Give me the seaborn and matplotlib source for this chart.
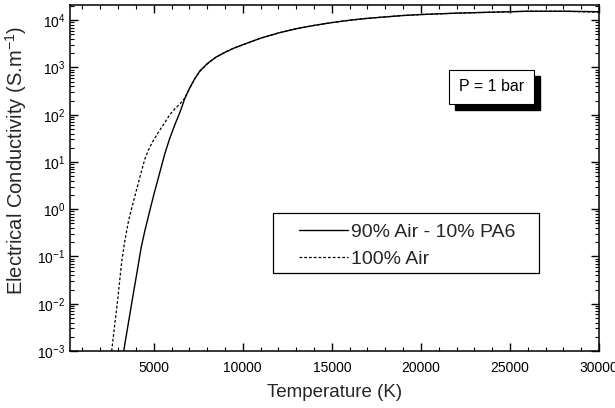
import numpy as np
import pandas as pd
import matplotlib
matplotlib.use("Agg")
import matplotlib.pyplot as plt
import matplotlib.transforms as mtransforms
from matplotlib.patches import Rectangle
from matplotlib.ticker import MultipleLocator, LogLocator, NullFormatter
import seaborn as sns

# values (T in K, log10 of sigma in S/m)
temp_mix = [3315, 3550, 3800, 4050, 4300, 4500, 4800, 5000, 5300, 5620, 5900,
            6200, 6500, 6740, 7000, 7300, 7600, 8000, 8500, 9000, 9500,
            10000, 11000, 12000, 13000, 14000, 15000, 16000, 17000, 18000,
            19000, 20000, 22000, 24000, 26000, 28000, 30000]
logsig_mix = [-3.00, -2.47, -1.91, -1.36, -0.80, -0.46, 0.00, 0.30, 0.72, 1.17, 1.50,
              1.80, 2.08, 2.34, 2.55, 2.76, 2.93, 3.08, 3.22, 3.32, 3.41,
              3.48, 3.62, 3.73, 3.82, 3.89, 3.95, 4.00, 4.04, 4.07,
              4.10, 4.12, 4.15, 4.17, 4.19, 4.19, 4.18]

temp_air = [2640, 2800, 2980, 3100, 3200, 3315, 3450, 3600, 3750, 3900, 4100,
            4300, 4500, 4700, 4900, 5100, 5300, 5600, 5900, 6200, 6500,
            6740, 7000, 7300, 7600, 8000, 8500, 9000, 9500,
            10000, 11000, 12000, 13000, 14000, 15000, 16000, 17000, 18000,
            19000, 20000, 22000, 24000, 26000, 28000, 30000]
logsig_air = [-3.00, -2.48, -1.91, -1.47, -1.12, -0.82, -0.52, -0.22, 0.00, 0.22, 0.50,
              0.79, 1.06, 1.25, 1.40, 1.53, 1.65, 1.82, 2.00, 2.13, 2.24,
              2.35, 2.55, 2.76, 2.92, 3.07, 3.22, 3.32, 3.41,
              3.48, 3.62, 3.73, 3.82, 3.89, 3.95, 4.00, 4.04, 4.07,
              4.10, 4.12, 4.15, 4.17, 4.19, 4.19, 4.17]

label_mix = "90% Air - 10% PA6"
label_air = "100% Air"

df_mix = pd.DataFrame({"T": temp_mix, "sigma": np.power(10.0, logsig_mix)})
df_air = pd.DataFrame({"T": temp_air, "sigma": np.power(10.0, logsig_air)})

sns.set_style("ticks")
plt.rcParams["font.family"] = ["Liberation Sans", "DejaVu Sans"]
plt.rcParams["mathtext.fontset"] = "custom"
plt.rcParams["mathtext.rm"] = "Liberation Sans"
plt.rcParams["mathtext.it"] = "Liberation Sans:italic"
plt.rcParams["axes.unicode_minus"] = False

fig = plt.figure(figsize=(6.15, 4.08), dpi=100)
ax = fig.add_axes([70 / 615, 1 - 351 / 408, 529 / 615, 346 / 408])

sns.lineplot(data=df_mix, x="T", y="sigma", ax=ax, color="black",
             linewidth=1.0, label=label_mix)
sns.lineplot(data=df_air, x="T", y="sigma", ax=ax, color="black",
             linewidth=0.9, linestyle=(0, (2.2, 1.6)), label=label_air)

ax.set_yscale("log")
ax.set_xlim(300, 30000)
ax.set_ylim(1e-3, 2.1e4)

ax.xaxis.set_major_locator(MultipleLocator(5000))
ax.xaxis.set_minor_locator(MultipleLocator(1000))
ax.yaxis.set_major_locator(LogLocator(base=10, numticks=20))
ax.yaxis.set_minor_locator(LogLocator(base=10, subs=np.arange(2, 10), numticks=20))
ax.yaxis.set_minor_formatter(NullFormatter())

ax.tick_params(which="both", direction="in", top=True, right=True,
               colors="black", labelsize=10)
ax.tick_params(which="major", length=6, width=1.0)
ax.tick_params(which="minor", length=3, width=0.8)
ax.tick_params(axis="x", pad=7)
for sp in ax.spines.values():
    sp.set_color("black")
    sp.set_linewidth(1.1)

ax.set_xlabel("Temperature (K)", fontsize=13.5, labelpad=7)
ax.set_ylabel("Electrical Conductivity (S.m$^{-1}$)", fontsize=14.5)
ax.yaxis.set_label_coords(-0.077, 0.55)

# legend: entries without frame, frame drawn as a plain box
leg = ax.legend(loc="upper left", bbox_to_anchor=(0.433, 0.368), fontsize=14,
                frameon=False, handlelength=2.5, handletextpad=0.15,
                borderpad=0, labelspacing=0.45, borderaxespad=0)
ax.add_patch(Rectangle((0.384, 0.225), 0.503, 0.174, transform=ax.transAxes,
                       fill=False, ec="black", lw=0.9, zorder=4))

# "P = 1 bar" box with a black drop shadow
box_x, box_y = 0.797, 0.764
shadow_tr = mtransforms.offset_copy(ax.transAxes, fig=fig, x=6, y=-6, units="dots")
ax.text(box_x, box_y, "P = 1 bar", transform=shadow_tr, ha="center", va="center",
        fontsize=11.5, color="black",
        bbox=dict(boxstyle="square,pad=0.6", fc="black", ec="black"), zorder=5)
ax.text(box_x, box_y, "P = 1 bar", transform=ax.transAxes, ha="center", va="center",
        fontsize=11.5, color="black",
        bbox=dict(boxstyle="square,pad=0.6", fc="white", ec="black", lw=0.8), zorder=6)

fig.savefig("out.png", dpi=100)
